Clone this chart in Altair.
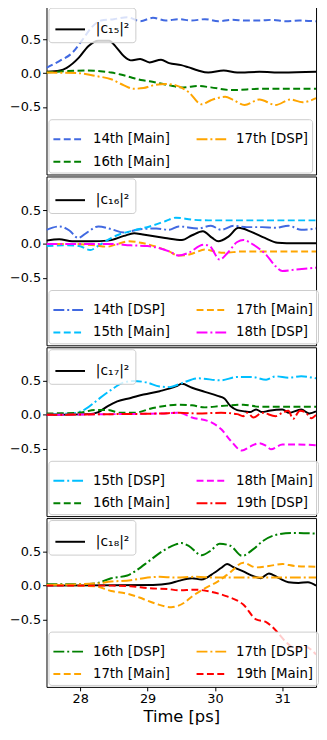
import altair as alt
import pandas as pd

# ---------------- data ----------------
X_TICKS = [28, 29, 30, 31]
Y_TICKS = [-0.5, 0.0, 0.5]

# Panel 1 : |c15|^2
P1_C15_T = [27.5, 27.7, 27.8, 27.98, 28.12, 28.27, 28.43, 28.53, 28.65, 28.75, 28.89, 29.03, 29.2, 29.32, 29.5, 29.6, 29.75, 29.9, 30.13, 30.33, 30.66, 31.0, 31.5]
P1_C15_V = [0.02, 0.04, 0.08, 0.23, 0.40, 0.48, 0.48, 0.39, 0.25, 0.19, 0.21, 0.16, 0.20, 0.15, 0.12, 0.09, 0.04, 0.01, 0.04, 0.01, 0.02, 0.01, 0.02]
P1_14M_T = [27.5, 27.69, 27.88, 28.03, 28.17, 28.31, 28.5, 28.7, 28.89, 29.08, 29.27, 29.46, 29.65, 29.85, 30.05, 30.25, 30.45, 30.65, 30.85, 31.05, 31.25, 31.5]
P1_14M_V = [0.08, 0.18, 0.30, 0.49, 0.68, 0.78, 0.80, 0.83, 0.77, 0.82, 0.78, 0.80, 0.78, 0.80, 0.77, 0.79, 0.78, 0.78, 0.79, 0.77, 0.78, 0.77]
P1_16M_T = [27.5, 27.8, 28.07, 28.3, 28.46, 28.6, 28.75, 28.9, 29.03, 29.32, 29.53, 29.75, 29.94, 30.25, 30.47, 30.7, 31.1, 31.5]
P1_16M_V = [0.01, 0.03, 0.04, 0.03, 0.01, -0.02, -0.06, -0.10, -0.12, -0.18, -0.21, -0.19, -0.21, -0.25, -0.24, -0.23, -0.23, -0.23]
P1_17D_T = [27.5, 27.98, 28.22, 28.46, 28.65, 28.79, 28.94, 29.08, 29.27, 29.42, 29.61, 29.8, 29.94, 30.15, 30.28, 30.44, 30.66, 30.9, 31.12, 31.3, 31.5]
P1_17D_V = [0.01, 0.0, -0.04, -0.09, -0.18, -0.23, -0.22, -0.18, -0.16, -0.18, -0.28, -0.46, -0.40, -0.35, -0.40, -0.47, -0.39, -0.47, -0.39, -0.43, -0.37]

# Panel 2 : |c16|^2
P2_C16_T = [27.5, 27.69, 27.88, 28.17, 28.41, 28.65, 28.8, 28.93, 29.12, 29.26, 29.51, 29.66, 29.82, 29.96, 30.05, 30.2, 30.35, 30.54, 30.74, 30.93, 31.2, 31.5]
P2_C16_V = [0.05, 0.07, 0.04, 0.04, 0.05, 0.12, 0.16, 0.14, 0.11, 0.09, 0.06, 0.13, 0.19, 0.09, 0.04, 0.11, 0.24, 0.18, 0.09, 0.02, 0.01, 0.01]
P2_14D_T = [27.5, 27.69, 27.84, 27.97, 28.1, 28.27, 28.46, 28.65, 28.89, 29.13, 29.32, 29.46, 29.75, 29.94, 30.09, 30.28, 30.47, 30.7, 30.9, 31.09, 31.28, 31.5]
P2_14D_V = [0.21, 0.26, 0.20, 0.09, 0.17, 0.26, 0.22, 0.17, 0.22, 0.23, 0.21, 0.26, 0.23, 0.27, 0.21, 0.27, 0.25, 0.25, 0.24, 0.27, 0.21, 0.23]
P2_15M_T = [27.5, 27.79, 27.98, 28.15, 28.25, 28.36, 28.55, 28.79, 29.03, 29.27, 29.42, 29.66, 29.9, 30.2, 30.6, 31.0, 31.5]
P2_15M_V = [-0.03, -0.02, -0.03, -0.09, -0.04, 0.03, 0.13, 0.20, 0.26, 0.34, 0.39, 0.36, 0.35, 0.35, 0.35, 0.35, 0.35]
P2_17M_T = [27.5, 27.9, 28.22, 28.4, 28.55, 28.72, 28.94, 29.13, 29.32, 29.45, 29.6, 29.7, 29.85, 29.99, 30.13, 30.42, 30.8, 31.5]
P2_17M_V = [0.0, 0.0, -0.02, -0.04, 0.0, 0.04, 0.01, -0.04, -0.11, -0.17, -0.16, -0.13, -0.08, -0.11, -0.13, -0.11, -0.11, -0.11]
P2_18D_T = [27.5, 28.0, 28.46, 28.75, 29.0, 29.32, 29.46, 29.61, 29.83, 29.92, 30.07, 30.18, 30.33, 30.42, 30.57, 30.76, 30.9, 31.0, 31.19, 31.5]
P2_18D_V = [0.0, 0.0, 0.0, -0.02, -0.03, -0.11, -0.17, -0.13, -0.01, -0.03, -0.23, -0.14, 0.03, 0.06, -0.01, -0.16, -0.33, -0.40, -0.38, -0.35]

# Panel 3 : |c17|^2
P3_C17_T = [27.5, 28.12, 28.27, 28.41, 28.55, 28.75, 28.94, 29.18, 29.42, 29.51, 29.66, 29.85, 30.04, 30.14, 30.23, 30.33, 30.45, 30.52, 30.61, 30.7, 30.8, 31.0, 31.1, 31.28, 31.4, 31.5]
P3_C17_V = [0.0, 0.01, 0.04, 0.13, 0.20, 0.25, 0.30, 0.35, 0.42, 0.46, 0.40, 0.34, 0.28, 0.24, 0.13, 0.07, 0.05, 0.04, 0.08, 0.04, 0.06, 0.08, 0.03, 0.08, 0.02, 0.05]
P3_15D_T = [27.5, 27.88, 28.07, 28.27, 28.46, 28.65, 28.79, 28.98, 29.18, 29.32, 29.51, 29.75, 30.09, 30.33, 30.55, 30.76, 30.9, 31.1, 31.28, 31.5]
P3_15D_V = [0.01, 0.02, 0.08, 0.23, 0.37, 0.48, 0.50, 0.48, 0.42, 0.41, 0.47, 0.54, 0.51, 0.56, 0.56, 0.52, 0.57, 0.55, 0.57, 0.54]
P3_16M_T = [27.5, 27.98, 28.22, 28.41, 28.6, 28.8, 29.08, 29.32, 29.46, 29.66, 29.85, 30.09, 30.42, 30.66, 31.0, 31.5]
P3_16M_V = [0.02, 0.03, 0.07, 0.07, 0.03, 0.03, 0.10, 0.14, 0.15, 0.14, 0.11, 0.13, 0.15, 0.12, 0.12, 0.12]
P3_18M_T = [27.5, 28.5, 29.2, 29.46, 29.66, 29.94, 30.09, 30.23, 30.4, 30.52, 30.66, 30.76, 30.83, 31.0, 31.2, 31.5]
P3_18M_V = [0.0, 0.01, 0.02, 0.03, -0.04, -0.11, -0.21, -0.38, -0.53, -0.47, -0.42, -0.46, -0.51, -0.44, -0.44, -0.45]
P3_19D_T = [27.5, 28.5, 29.2, 29.46, 29.75, 30.09, 30.33, 30.42, 30.48, 30.57, 30.7, 30.9, 31.0, 31.09, 31.16, 31.26, 31.35, 31.43, 31.5]
P3_19D_V = [0.0, 0.01, 0.02, 0.03, 0.02, 0.03, 0.01, -0.02, 0.03, -0.04, 0.03, -0.02, 0.03, 0.06, -0.06, 0.06, 0.03, -0.05, 0.0]

# Panel 4 : |c18|^2
P4_C18_T = [27.5, 29.08, 29.32, 29.46, 29.66, 29.8, 29.99, 30.09, 30.18, 30.28, 30.42, 30.57, 30.68, 30.8, 30.95, 31.09, 31.24, 31.38, 31.5]
P4_C18_V = [0.0, 0.01, 0.03, 0.07, 0.11, 0.09, 0.19, 0.26, 0.32, 0.27, 0.21, 0.14, 0.11, 0.18, 0.11, 0.05, 0.04, 0.05, 0.0]
P4_16D_T = [27.5, 28.0, 28.22, 28.46, 28.7, 28.84, 29.03, 29.22, 29.42, 29.5, 29.61, 29.8, 29.94, 30.07, 30.23, 30.4, 30.57, 30.71, 30.9, 31.14, 31.5]
P4_16D_V = [0.02, 0.02, 0.03, 0.11, 0.15, 0.23, 0.37, 0.51, 0.61, 0.63, 0.59, 0.45, 0.52, 0.62, 0.59, 0.44, 0.54, 0.66, 0.75, 0.78, 0.77]
P4_17D_T = [27.5, 28.22, 28.46, 28.75, 28.94, 29.18, 29.4, 29.7, 30.0, 30.3, 30.6, 31.0, 31.5]
P4_17D_V = [0.01, 0.03, 0.06, 0.08, 0.11, 0.13, 0.12, 0.13, 0.12, 0.12, 0.12, 0.12, 0.12]
P4_17M_T = [27.5, 28.22, 28.46, 28.7, 28.89, 28.99, 29.13, 29.35, 29.45, 29.55, 29.66, 29.85, 30.04, 30.23, 30.42, 30.61, 30.8, 31.0, 31.19, 31.5]
P4_17M_V = [0.01, -0.01, -0.08, -0.12, -0.18, -0.22, -0.27, -0.32, -0.30, -0.25, -0.16, -0.04, 0.06, 0.20, 0.34, 0.27, 0.29, 0.32, 0.29, 0.28]
P4_19M_T = [27.5, 28.46, 28.75, 29.03, 29.3, 29.46, 29.7, 29.94, 30.18, 30.42, 30.61, 30.76, 30.9, 31.05, 31.19, 31.33, 31.5]
P4_19M_V = [0.0, 0.0, -0.01, -0.04, -0.05, -0.07, -0.06, -0.09, -0.16, -0.28, -0.50, -0.54, -0.66, -0.83, -0.93, -0.90, -1.02]

# legend order = matplotlib order (Vega fills legend columns top-to-bottom)
PANELS = [
    {"label": "|c₁₅|²", "black": (P1_C15_T, P1_C15_V),
     "series": [("14th [Main]", P1_14M_T, P1_14M_V), ("16th [Main]", P1_16M_T, P1_16M_V),
                ("17th [DSP]", P1_17D_T, P1_17D_V)]},
    {"label": "|c₁₆|²", "black": (P2_C16_T, P2_C16_V),
     "series": [("14th [DSP]", P2_14D_T, P2_14D_V), ("15th [Main]", P2_15M_T, P2_15M_V),
                ("17th [Main]", P2_17M_T, P2_17M_V), ("18th [DSP]", P2_18D_T, P2_18D_V)]},
    {"label": "|c₁₇|²", "black": (P3_C17_T, P3_C17_V),
     "series": [("15th [DSP]", P3_15D_T, P3_15D_V), ("16th [Main]", P3_16M_T, P3_16M_V),
                ("18th [Main]", P3_18M_T, P3_18M_V), ("19th [DSP]", P3_19D_T, P3_19D_V)]},
    {"label": "|c₁₈|²", "black": (P4_C18_T, P4_C18_V),
     "series": [("16th [DSP]", P4_16D_T, P4_16D_V), ("17th [Main]", P4_17M_T, P4_17M_V),
                ("17th [DSP]", P4_17D_T, P4_17D_V), ("19th [Main]", P4_19M_T, P4_19M_V)]},
]

# ---------------- styles ----------------
ORDER_COLORS = {"14th": "#4169e1", "15th": "#00bfff", "16th": "#008000",
                "17th": "#ffa500", "18th": "#ff00ff", "19th": "#ff0000"}
DASHES = {"Main": [7, 3.5], "DSP": [11, 3, 2, 3]}
FONT = "DejaVu Sans"
LEG_FILL = "rgba(255,255,255,0.8)"
LEG_STROKE = "#cccccc"

W, H = 273, 171


def make_panel(p, show_x):
    bt, bv = p["black"]
    black_df = pd.DataFrame({"t": bt, "v": bv, "lab": p["label"]})
    rows = []
    for name, ts, vs in p["series"]:
        for t, v in zip(ts, vs):
            rows.append({"t": t, "v": v, "series": name})
    ser_df = pd.DataFrame(rows)
    names = [s[0] for s in p["series"]]
    cols = [ORDER_COLORS[n.split()[0]] for n in names]
    dashes = [DASHES["Main" if "Main" in n else "DSP"] for n in names]

    if show_x:
        xax = alt.Axis(values=X_TICKS, format="d", title="Time [ps]", titlePadding=3)
    else:
        xax = None
    x = alt.X("t:Q", scale=alt.Scale(domain=[27.5, 31.5], nice=False, zero=False), axis=xax)
    y = alt.Y("v:Q", scale=alt.Scale(domain=[-1.5, 1.0], nice=False, zero=False),
              axis=alt.Axis(values=Y_TICKS, format=".1f", title=None,
                            labelExpr="replace(datum.label, '-', '\u2212')"))

    top_leg = alt.Legend(title=None, orient="top-left", offset=2, padding=6,
                         symbolType="stroke", symbolSize=900, symbolStrokeWidth=2,
                         labelFontSize=14, labelFont=FONT, labelColor="black", labelOffset=10,
                         fillColor=LEG_FILL, strokeColor=LEG_STROKE, cornerRadius=3)
    bot_leg = alt.Legend(title=None, orient="bottom-left", offset=2, padding=4,
                         columns=2, columnPadding=22, rowPadding=-8,
                         symbolType="stroke", symbolSize=900, symbolStrokeWidth=2,
                         labelFontSize=13.5, labelFont=FONT, labelColor="black", labelOffset=9,
                         labelLimit=300,
                         fillColor=LEG_FILL, strokeColor=LEG_STROKE, cornerRadius=3)

    black = alt.Chart(black_df).mark_line(clip=True, strokeWidth=2, interpolate="monotone").encode(
        x=x, y=y,
        color=alt.Color("lab:N", scale=alt.Scale(domain=[p["label"]], range=["black"]), legend=top_leg),
    )
    colored = alt.Chart(ser_df).mark_line(clip=True, strokeWidth=2, interpolate="monotone").encode(
        x=x, y=y,
        color=alt.Color("series:N", scale=alt.Scale(domain=names, range=cols), legend=bot_leg),
        strokeDash=alt.StrokeDash("series:N", scale=alt.Scale(domain=names, range=dashes), legend=bot_leg),
    )
    return alt.layer(black, colored).resolve_scale(
        color="independent", strokeDash="independent"
    ).properties(width=W, height=H)


panels = [make_panel(p, i == len(PANELS) - 1) for i, p in enumerate(PANELS)]

chart = alt.vconcat(*panels, spacing=0).resolve_scale(
    color="independent", strokeDash="independent"
).properties(
    padding={"left": 0, "top": -8, "right": 0, "bottom": 0}
).configure_view(
    stroke="black", strokeWidth=1
).configure_axis(
    labelFont=FONT, labelFontSize=13, labelColor="black", tickColor="black",
    tickSize=4, labelPadding=2, domain=False, grid=False,
    titleFont=FONT, titleFontSize=16.5, titleFontWeight="normal", titleColor="black"
)

chart.save("out.html", embed_options={"renderer": "svg", "actions": False})
